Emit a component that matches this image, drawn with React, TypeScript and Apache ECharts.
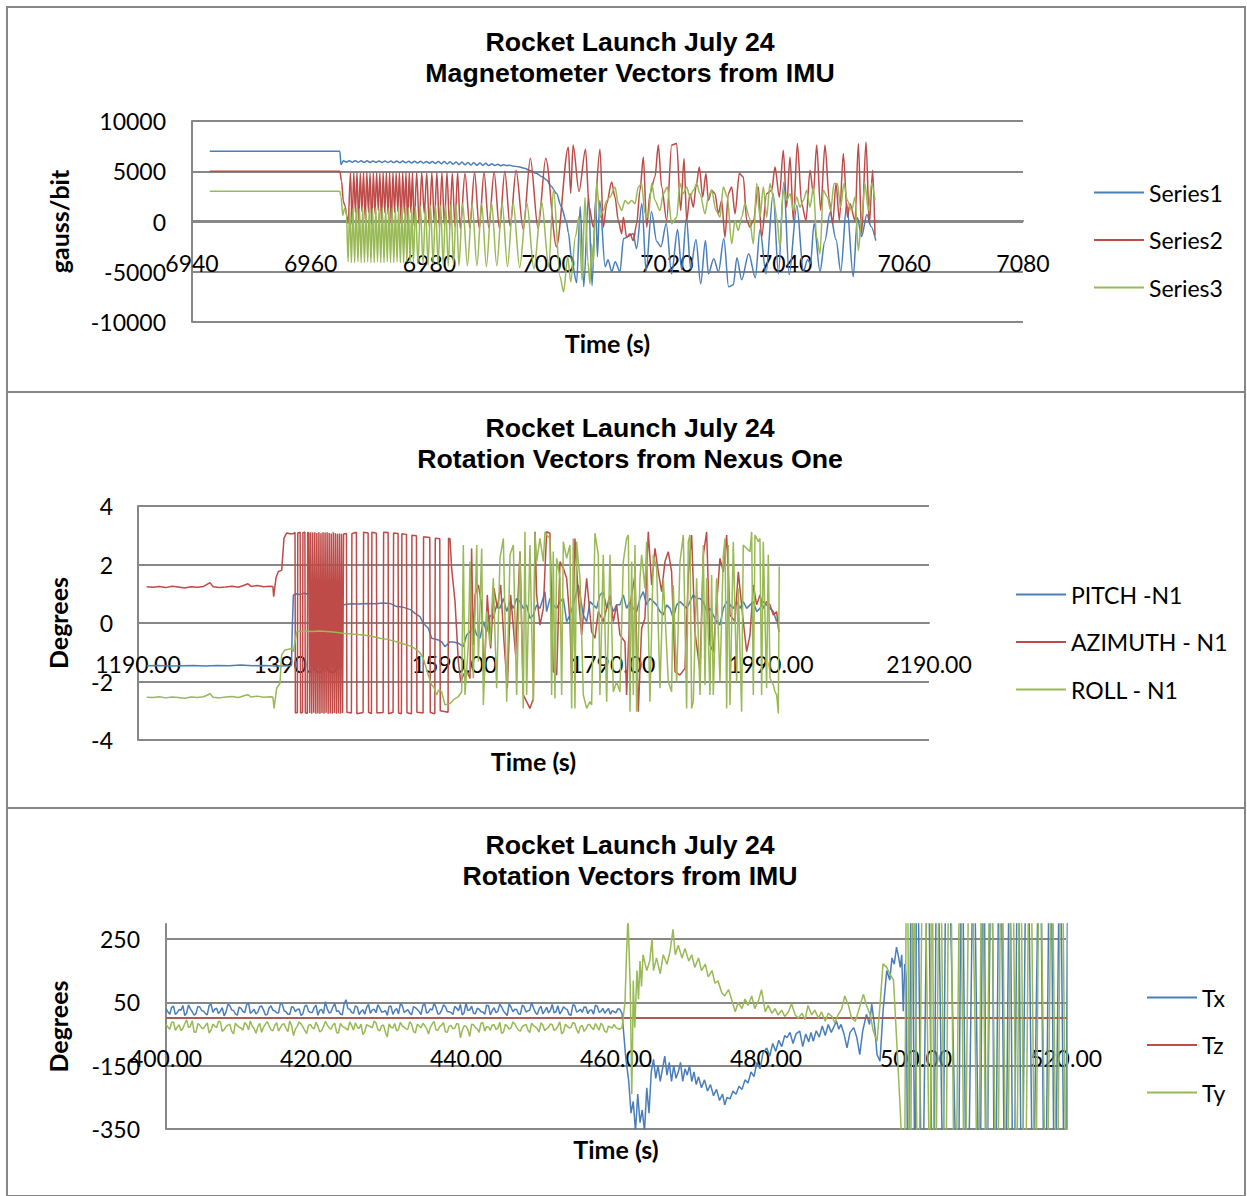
import React, { useEffect, useRef } from "react";
import * as echarts from "echarts";

// ---------------- Panel 1: Magnetometer vectors (time s, gauss/bit) ----------------
const magSeries1: number[][] = [
[6943,7000],[6964.9,7000],[6965.1,5650],[6965.5,6050],
[6966,5900],[6966.5,6050],[6967,5900],[6967.5,6050],[6968,5900],[6968.5,6040],[6969,5890],[6969.5,6040],[6970,5880],[6970.5,6030],[6971,5880],[6971.5,6030],[6972,5870],[6972.5,6020],[6973,5870],[6973.5,6020],[6974,5860],[6974.5,6010],[6975,5850],[6975.5,6010],[6976,5840],[6976.5,6000],[6977,5830],[6977.5,6000],[6978,5820],[6978.5,5990],[6979,5800],[6979.5,5980],[6980,5790],[6980.5,5980],[6981,5770],[6981.5,5970],[6982,5750],[6982.5,5960],[6983,5730],[6983.5,5950],[6984,5700],[6984.5,5930],[6985,5680],[6985.5,5910],[6986,5650],[6986.5,5880],[6987,5630],[6987.5,5850],[6988,5600],[6988.5,5820],[6989,5580],[6989.5,5800],[6990,5560],[6990.5,5750],[6991,5560],[6991.5,5700],[6992,5550],[6992.5,5650],[6993,5560],[6993.5,5600],[6994,5520],
[6995,5450],[6996,5300],[6997,5050],[6998,4800],[6999,4450],[6999.8,4100],[7000.5,3500],[7001.4,2800],[7002.2,1500],[7003.1,-100],[7003.4,-1100],
[7004.0,-4000],[7004.8,-6100],[7005.4,1500],[7006.0,-6500],[7006.8,2600],[7007.4,-6400],[7008.0,2300],[7008.3,-3500],[7008.7,2100],[7009.6,-4500],[7010.1,-3800],[7010.7,-5000],[7011.3,-4000],[7012.1,-5000],[7012.7,-1700],[7013.5,-1500],[7014.3,-1200],[7014.9,-2700],[7015.8,1800],[7016.5,-5000],[7017.4,1000],[7018.3,-2000],[7019.0,-2500],[7019.9,-200],[7020.8,-5200],[7021.8,-800],[7022.5,-4800],[7023.3,400],[7024.0,-4700],[7024.9,-1800],[7025.7,-6200],[7026.5,-1900],[7027.0,-5200],[7027.9,-3700],[7028.7,-5000],[7029.6,-1700],[7030.4,-6500],[7031.2,-6300],[7031.8,-3600],[7032.6,-5800],[7033.8,-3200],[7034.9,-5600],[7035.7,-800],[7036.7,-5200],[7037.9,2800],[7038.8,-5200],[7039.7,3900],[7040.6,-5300],[7041.9,1600],[7043.0,-5000],[7043.7,-3800],[7044.2,-4200],[7044.8,-200],[7045.8,-5000],[7046.6,-2000],[7047.5,900],[7048.5,-1800],[7049.3,-5000],[7050.3,1800],[7051.4,-5500],[7052.1,400],[7052.8,-1500],[7053.7,700],[7054.4,-500],[7055.2,-1900]
];

const magSeries2: number[][] = [
[6943,5000],[6964.9,5000],[6965.2,4000],[6965.5,2000],[6965.8,1500],[6966.1,500],[6966.3,-200],
[6966.7,4850],[6966.98,-300],[6967.25,4850],[6967.53,900],[6967.8,4850],[6968.08,-200],[6968.35,4800],[6968.63,1000],[6968.9,4850],[6969.18,200],[6969.45,4850],[6969.73,900],[6970.0,4800],[6970.28,-300],[6970.55,4850],[6970.83,800],[6971.1,4850],[6971.38,1100],[6971.65,4800],[6971.93,-100],[6972.2,4850],[6972.48,900],[6972.75,4850],[6973.03,700],[6973.3,4850],[6973.58,-400],[6973.85,4850],[6974.13,900],[6974.4,4800],[6974.68,1000],[6974.95,4850],[6975.23,-200],[6975.5,4850],[6975.78,800],[6976.05,4850],[6976.33,-300],[6976.6,4850],[6976.88,900],[6977.15,4850],[6977.43,-400],
[6977.85,4850],[6978.28,-300],[6978.7,4850],[6979.13,800],[6979.55,4800],[6979.98,-500],[6980.4,4850],[6980.83,-200],[6981.25,4850],[6981.68,-600],[6982.1,4850],[6982.53,-400],[6982.95,4850],[6983.4,-600],[6983.85,4800],[6984.3,-500],[6984.75,4850],[6985.2,-700],
[6986.0,4800],[6986.8,-600],[6987.6,4900],[6988.4,-700],[6989.2,4900],[6990.0,-600],[6990.9,4950],[6991.8,-700],[6992.7,5000],[6993.6,-500],[6994.6,5100],
[6995.8,-800],[6997.0,6300],[6998.3,-700],[6999.6,6300],[7001.4,-2500],[7003.4,7400],[7003.8,2800],[7004.2,7600],[7005.2,3000],[7006.3,7200],[7006.9,1500],
[7007.61,-570],[7008.73,7200],[7009.30,-570],[7009.86,1770],[7010.70,3930],[7011.26,2430],[7011.82,100],[7012.39,-1230],[7012.67,430],[7013.23,-1570],[7013.79,-1230],[7014.35,-1900],[7014.91,-230],[7015.47,3100],[7016.04,6430],[7016.60,-570],[7017.16,2770],[7018.00,4430],[7018.56,7600],[7019.12,3430],[7019.97,100],[7020.81,7600],[7021.65,7770],[7022.33,1100],[7022.89,6270],[7023.34,100],[7023.90,2770],[7024.46,1430],[7024.91,3430],[7025.47,5430],[7026.03,2430],[7026.59,4770],[7026.99,2100],[7027.55,3100],[7028.11,2770],[7028.67,770],[7029.23,2100],[7029.79,-1570],[7030.36,2770],[7030.92,3430],[7031.48,770],[7032.21,4770],[7032.88,4430],[7033.45,100],[7034.01,-570],[7034.57,100],[7035.41,3430],[7035.97,-1570],[7036.81,2770],[7037.66,3100],[7038.22,5430],[7038.95,2430],[7039.62,7100],[7040.18,1430],[7040.75,6430],[7041.31,100],[7041.98,7770],[7042.71,1770],[7043.44,100],[7044.12,5100],[7044.68,2770],[7045.24,7600],[7045.91,1100],[7046.64,7600],[7047.37,2100],[7047.93,-230],[7048.50,3770],[7049.06,100],[7049.73,6770],[7050.41,430],[7050.85,1770],[7051.70,100],[7052.26,7770],[7052.82,-1230],[7053.55,7930],[7054.11,-230],[7054.67,5100],[7055.07,-1400]
];

const magSeries3: number[][] = [
[6943,3000],[6964.9,3000],[6965.1,2500],[6965.4,600],[6965.7,1300],[6966.0,1000],[6966.3,-4000],
[6966.57,1400],[6966.85,-4100],[6967.12,1300],[6967.4,-4100],[6967.67,1400],[6967.95,-4000],[6968.22,1300],[6968.5,-4100],[6968.77,1400],[6969.05,-4100],[6969.32,1200],[6969.6,-4000],[6969.87,1400],[6970.15,-4100],[6970.42,1300],[6970.7,-4100],[6970.97,1400],[6971.25,-4000],[6971.52,1300],[6971.8,-4100],[6972.07,1400],[6972.35,-4100],[6972.62,1300],[6972.9,-4000],[6973.17,1400],[6973.45,-4100],[6973.72,1400],[6974.0,-4100],[6974.27,1300],[6974.55,-4000],[6974.82,1400],[6975.1,-4100],[6975.37,1400],[6975.65,-4100],[6975.92,1300],[6976.2,-4000],[6976.47,1400],[6976.75,-4100],[6977.02,1400],[6977.3,-4100],
[6977.64,1500],[6978.07,-4200],[6978.49,1500],[6978.92,-4200],[6979.34,1500],[6979.77,-4300],[6980.19,1600],[6980.62,-4200],[6981.04,1600],[6981.47,-4300],[6981.89,1600],[6982.32,-4300],[6982.74,1600],[6983.17,-4400],[6983.62,1700],[6984.07,-4300],[6984.52,1700],[6984.97,-4400],[6985.6,1800],
[6986.4,-4400],[6987.2,1800],[6988.0,-4400],[6988.8,1800],[6989.6,-4500],[6990.45,1900],[6991.35,-4400],[6992.25,1900],[6993.15,-4500],[6994.1,1900],[6995.2,-4600],
[6996.4,1900],[6997.6,-4700],[6998.9,2000],[7000.1,-4500],[7000.9,3200],[7002.0,-5500],[7002.6,-7000],[7003.3,-3500],[7003.8,-6000],[7004.6,-1500],[7005.2,500],[7005.7,-5800],[7006.2,2400],[7006.7,-4000],
[7007.05,-6230],[7007.33,-2230],[7007.61,-4230],[7007.89,100],[7008.17,3770],[7008.73,430],[7009.30,1100],[7009.86,2100],[7010.42,2430],[7011.26,3430],[7011.82,1770],[7012.39,1100],[7012.95,2100],[7013.51,1770],[7014.07,2100],[7014.63,1770],[7015.19,3430],[7015.75,3770],[7016.32,770],[7016.88,430],[7017.44,3770],[7018.00,2100],[7018.84,1100],[7019.40,2770],[7020.08,3430],[7020.81,-230],[7021.65,430],[7022.21,3770],[7022.77,2770],[7023.34,3430],[7023.90,2430],[7024.46,3100],[7025.02,3770],[7025.58,2770],[7026.43,770],[7026.99,2430],[7027.55,3100],[7028.28,1100],[7028.95,430],[7029.51,3430],[7030.19,2430],[7030.92,-2230],[7031.48,100],[7032.04,-900],[7032.60,430],[7033.16,1770],[7033.89,430],[7034.57,-2230],[7035.13,3770],[7035.69,430],[7036.25,3430],[7036.81,430],[7037.38,3770],[7037.94,2430],[7038.50,430],[7039.06,-2570],[7039.62,3100],[7040.18,2100],[7040.75,2770],[7041.31,1100],[7041.87,2430],[7042.43,1430],[7042.99,2100],[7043.55,3100],[7044.12,1430],[7044.68,3430],[7045.24,-1570],[7045.80,-3230],[7046.36,3100],[7047.04,2430],[7047.60,1100],[7048.16,3770],[7048.72,3770],[7049.28,1430],[7049.84,3770],[7050.41,2100],[7051.14,1100],[7051.70,2430],[7052.26,-2900],[7052.82,430],[7053.38,3770],[7053.94,1100],[7054.51,3770],[7055.07,2100]
];

// ---------------- Panel 2: Nexus One rotation vectors (time s, degrees) ----------------
const nexusPitch: number[][] = [
[1201,-1.46],[1215,-1.45],[1230,-1.47],[1245,-1.46],[1260,-1.45],[1275,-1.47],[1290,-1.45],[1305,-1.46],[1320,-1.44],[1335,-1.46],[1350,-1.45],[1365,-1.47],[1380,-1.46],[1384,-1.45],[1385,-0.2],[1386.4,0.95],[1390,1.0],[1395,0.97],[1400,1.02],[1405,0.98],[1410,1.0],[1415,0.96],[1420,1.01],[1424.3,1.07],[1428,0.98],[1432,0.99],[1436,0.95],[1439,0.73],[1444,0.66],[1449.6,0.62],[1460,0.66],[1470,0.65],[1480,0.67],[1490,0.66],[1500,0.68],[1508.6,0.67],[1517,0.56],[1524,0.55],[1529.6,0.5],[1535,0.45],[1540.2,0.33],[1546.5,0.22],[1550.7,-0.01],[1557,-0.18],[1561.3,-0.52],[1565,-0.55],[1569.7,-0.58],[1574,-0.65],[1578.1,-0.81],[1584.4,-0.64],[1590,-0.66],[1595,-0.69],[1601.3,-0.81],[1605.5,-0.41],[1609.7,-0.3],[1614,-0.07],[1618.2,-0.41],[1622.4,-0.52],[1626.6,0.05],[1630.8,-0.3],[1635,0.27],[1639.2,0.16],[1643.4,0.62],[1647.6,0.5],[1651.9,0.84],[1656.1,0.39],[1660.3,0.73],[1664.5,0.5],[1668.7,0.84],
[1672.9,0.73],[1677.1,0.5],[1681.3,0.62],[1685.5,0.16],[1689.8,0.27],[1694,0.62],[1698.2,0.5],[1704.5,1.07],[1706.6,0.39],[1710.8,0.84],[1715,0.62],[1719.3,0.5],[1723.5,0.73],[1727.7,0.84],[1731.9,0.05],[1736.1,0.27],[1740.3,0.62],[1746.6,1.3],[1748.8,0.96],[1753,0.27],[1757.2,0.05],[1761.4,0.73],[1765.6,0.62],[1769.8,0.5],[1774,0.96],[1778.2,1.07],[1782.5,0.5],[1786.7,0.73],[1790.9,0.39],[1795.1,0.62],[1799.3,0.62],[1803.5,0.96],[1807.7,0.5],[1812,0.73],[1816.2,0.5],[1820.4,0.39],[1824.6,0.84],[1828.8,1.07],[1833,0.62],[1837.2,0.84],[1841.5,0.73],[1845.7,0.62],[1849.9,0.39],[1854.1,0.27],[1858.3,0.62],[1862.5,0.5],[1866.7,0.16],[1871,0.62],[1875.2,0.73],[1879.4,0.62],[1883.6,0.5],[1887.8,0.73],[1892,0.96],[1896.2,0.84],[1900.5,0.84],[1904.7,0.73],[1908.9,0.39],[1913.1,0.5],[1917.3,0.27],[1921.5,0.05],[1925.7,-0.07],[1930,0.5],[1934.2,0.73],[1938.4,0.62],[1942.6,0.5],[1946.8,0.73],[1951,0.5],[1955.2,0.73],[1959.5,0.5],[1963.7,0.62],[1967.9,0.73],[1972.1,0.39],[1976.3,0.5],[1980.5,0.73],[1984.7,0.62],[1989,0.5],[1993.2,0.39],[1997.4,0.05]
];

const nexusAzimuth: number[][] = [
[1201,1.24],[1209,1.22],[1217,1.25],[1225,1.21],[1233,1.26],[1241,1.23],[1249,1.2],[1257,1.24],[1265,1.22],[1273,1.25],[1281,1.38],[1285,1.24],[1293,1.21],[1301,1.23],[1309,1.26],[1317,1.22],[1325,1.3],[1329,1.34],[1333,1.25],[1341,1.28],[1349,1.24],[1357,1.26],[1360.5,1.25],[1361.5,0.9],[1364.5,1.55],[1367.4,1.76],[1371.6,1.8],[1374.6,2.9],[1378,3.08],[1382,3.05],[1386.4,3.05],[1388.5,3.1],
[1389,-3.08],[1391.5,-3.06],[1392,3.08],[1395,3.1],[1395.5,-3.08],[1398,-3.05],[1398.5,3.09],[1401,3.1],[1401.5,-3.07],[1404,-3.09],[1404.5,3.1],[1406,3.08],
[1407,-3.08],[1408.3,3.1],[1409.6,-3.1],[1410.9,3.09],[1412.2,-3.07],[1413.5,3.1],[1414.8,-3.1],[1416.1,3.08],[1417.4,-3.09],[1418.7,3.1],[1420,-3.1],[1421.3,3.07],[1422.6,-3.08],[1423.9,3.1],[1425.2,-3.1],[1426.5,3.09],[1427.8,-3.07],[1429.1,3.1],[1430.4,-3.1],[1431.7,3.08],[1433,-3.09],[1434.3,3.06],[1435.6,-3.1],[1436.9,3.1],[1438.2,-3.08],[1439.5,3.07],[1440.8,-3.1],[1442.1,3.05],[1443.4,-3.09],[1444.7,3.06],[1446,-3.1],[1447.3,3.05],[1448.6,-3.08],[1449.9,3.04],
[1453.5,3.06],[1454.1,-3.05],[1459.8,-3.08],[1460.4,3.05],[1466.1,3.1],[1466.7,-3.1],[1474.6,-3.06],[1475.2,3.1],[1480.9,3.08],[1481.5,-3.05],[1485.1,-3.1],[1485.7,3.1],[1491.4,3.07],[1492,-3.08],[1499.9,-3.06],[1500.5,3.1],[1506.2,3.09],[1506.8,-3.1],[1512.5,-3.05],[1513.1,3.08],[1518.8,3.06],[1519.4,-3.08],[1523,-3.1],[1523.6,3.05],[1529.4,3.03],[1530,-3.07],[1535.7,-3.1],[1536.3,3.0],[1542,2.98],[1542.6,-3.05],[1550.4,-3.08],[1551,2.95],[1558.9,2.92],[1559.5,-3.06],[1565.2,-3.1],[1565.8,2.9],[1571.5,2.88],[1572.1,-3.0],[1582,-3.05],[1582.6,2.9],[1584.4,2.88],[1586.5,1.87],[1590.8,0.73],[1595,-1.32],[1598,-2.0],[1601,-1.8],[1605,-1.6],[1609.7,-1.9],
[1611.8,2.55],[1613.9,-0.75],[1616.1,0.96],[1620.3,1.3],[1624.5,0.62],[1627.5,-2.01],[1631.6,0.96],[1635.8,-0.87],[1640,1.19],[1644.3,0.5],[1648.5,1.3],[1652.7,-0.64],[1656.9,-2.23],[1661.1,0.96],[1667.4,-1.09],[1672.9,2.44],
[1677.1,-2.46],[1681.3,-2.69],[1685.5,-2.92],[1689.8,-2.58],[1691.9,3.12],[1694,0.96],[1698.2,-0.07],[1702.4,0.5],[1706.6,3.12],[1710.8,3.07],[1715,-1.66],[1719.3,-1.78],[1723.5,2.1],[1727.7,1.87],[1731.9,1.53],[1736.1,0.05],[1738.2,-2.01],[1742.4,2.89],[1746.6,0.96],[1750.9,-0.41],[1757.2,1.53],[1763.5,-0.3],[1767.7,-0.52],[1771.9,0.39],[1778.2,0.05],[1786.7,0.96],[1790.9,0.05],[1795.1,0.62],[1799.3,-0.41],[1805.6,-0.64],[1807.7,-2.46],[1812,0.62],[1818.3,1.64],[1822.5,-3.03],[1826.7,-0.18],[1830.9,0.16],[1835.1,3.12],[1839.4,1.3],[1843.6,2.55],[1847.8,1.75],[1852,1.07],[1856.2,2.1],[1860.4,2.44],[1864.6,1.75],[1868.9,-1.66],[1875.2,-1.78],[1881.5,-1.55],[1885.7,1.64],[1889.9,3.01],[1894.1,-0.3],[1900.5,-1.66],[1904.7,2.33],[1908.9,3.12],[1913.1,-0.75],[1917.3,-0.98],[1925.7,2.21],[1930,1.75],[1934.2,3.01],[1938.4,0.27],[1944.7,0.05],[1948.9,1.75],[1955.2,0.05],[1959.5,-0.98],[1963.7,-0.41],[1967.9,1.3],[1972.1,0.62],[1976.3,0.96],[1980.5,0.5],[1984.7,0.73],[1989,0.62],[1993.2,0.27],[1997.4,0.39],[1999.5,-0.18],[2000.7,-0.3]
];

const nexusRoll: number[][] = [
[1201,-2.54],[1209,-2.55],[1217,-2.52],[1225,-2.56],[1233,-2.53],[1241,-2.55],[1249,-2.57],[1257,-2.53],[1265,-2.55],[1273,-2.52],[1281,-2.42],[1285,-2.54],[1293,-2.56],[1301,-2.53],[1309,-2.51],[1317,-2.55],[1325,-2.48],[1329,-2.45],[1333,-2.53],[1341,-2.5],[1349,-2.54],[1357,-2.52],[1360.5,-2.53],[1362,-2.92],[1365.3,-2.23],[1369.5,-2.06],[1371.6,-1.09],[1375.8,-0.92],[1380,-0.9],[1384.3,-0.87],[1386.4,-0.98],[1390.6,-0.3],[1400,-0.27],[1410,-0.29],[1420,-0.27],[1432.7,-0.3],[1440,-0.32],[1449.6,-0.35],[1460,-0.38],[1474.9,-0.41],[1485,-0.45],[1496,-0.52],[1505,-0.56],[1517,-0.64],[1529.6,-0.75],[1536,-0.8],[1542.3,-0.92],[1546,-1.0],[1550.7,-1.21],[1557,-1.78],[1561.3,-2.12],[1564,-2.2],[1567.6,-2.46],[1570,-2.3],[1573.9,-2.35],[1578.1,-2.8],[1584.4,-2.75],[1590,-2.6],[1595,-2.52],[1599.2,-2.35],
[1601.3,2.67],[1603.4,-2.46],[1607.6,-0.75],[1609.7,2.1],[1613.9,-1.89],[1618.2,2.67],[1620.3,-1.32],[1624.5,2.55],[1626.6,-2.8],[1630.8,0.39],[1635,-0.75],[1639.2,1.53],[1643.4,-2.23],[1647.6,2.21],[1651.9,2.89],[1656.1,-2.69],[1660.3,2.33],[1664.5,2.67],[1668.7,-2.46],[1672.9,2.44],
[1677.1,-2.92],[1679.2,3.12],[1681.3,-2.46],[1685.5,2.67],[1689.8,-2.69],[1691.9,3.07],[1694,2.1],[1698.2,2.89],[1702.4,2.1],[1704.5,3.12],[1706.6,3.01],[1710.8,2.89],[1712.9,-2.46],[1715,2.44],[1717.1,-2.58],[1719.3,2.21],[1723.5,1.53],[1725.6,-2.46],[1727.7,2.78],[1731.9,2.21],[1736.1,2.67],[1738.2,-2.92],[1740.3,2.89],[1742.4,-2.92],[1744.5,2.78],[1746.6,2.1],[1748.8,1.53],[1753,-2.46],[1757.2,-2.92],[1761.4,-2.69],[1763.5,-2.8],[1767.7,3.07],[1771.9,2.33],[1774,-2.46],[1778.2,2.33],[1782.5,-2.69],[1786.7,2.33],[1790.9,-2.35],[1795.1,-2.01],[1799.3,-2.35],[1803.5,2.1],[1807.7,2.89],[1809.9,3.01],[1812,-3.03],[1814.1,2.1],[1816.2,-2.46],[1818.3,2.67],[1820.4,-3.03],[1824.6,1.53],[1826.7,2.33],[1830.9,1.19],[1833,2.78],[1837.2,-2.69],[1841.5,2.33],[1845.7,1.87],[1849.9,-2.23],[1854.1,1.53],[1860.4,-2.01],[1864.6,-2.35],[1866.7,1.3],[1871,-2.01],[1875.2,2.1],[1879.4,3.01],[1883.6,-2.92],[1885.7,2.78],[1887.8,3.01],[1889.9,-2.92],[1892,-2.69],[1896.2,1.53],[1900.5,-2.46],[1904.7,2.67],[1906.8,-2.12],[1908.9,1.53],[1913.1,-2.46],[1915.2,1.64],[1917.3,-2.46],[1921.5,1.53],[1925.7,-2.01],[1930,2.33],[1932.1,2.89],[1934.2,-2.92],[1936.3,2.67],[1938.4,-2.8],[1942.6,2.78],[1946.8,-2.01],[1948.9,1.19],[1953.1,-3.03],[1955.2,2.67],[1959.5,2.55],[1963.7,2.44],[1965.8,3.12],[1967.9,-2.46],[1970,3.01],[1974.2,2.78],[1976.3,2.89],[1978.4,-2.46],[1980.5,2.78],[1984.7,-2.23],[1986.8,2.33],[1989,-1.89],[1993.2,-2.12],[1995.3,-2.35],[1997.4,-2.46],[1999.5,-3.09],[2000.7,1.93]
];

// ---------------- Panel 3: IMU rotation vectors (time s, degrees) ----------------
const imuNoiseTimeA: number[] = [400,400.5,401,401.5,402,402.5,403,403.5,404,404.5,405,405.5,406,406.5,407,407.5,408,408.5,409,409.5,410,410.5,411,411.5,412,412.5,413,413.5,414,414.5,415,415.5,416,416.5,417,417.5,418,418.5,419,419.5,420,420.5,421,421.5,422,422.5,423,423.5,424,424.5,425,425.5,426,426.5,427,427.5,428,428.5,429,429.5,430,430.5,431,431.5,432,432.5,433,433.5,434,434.5,435,435.5,436,436.5,437,437.5,438,438.5,439,439.5,440,440.5,441,441.5,442,442.5,443,443.5,444,444.5,445,445.5,446,446.5,447,447.5,448,448.5,449,449.5,450,450.5,451,451.5,452,452.5,453,453.5,454,454.5,455,455.5,456,456.5,457,457.5,458,458.5,459,459.5,460,460.5];
const imuNoiseTimeB: number[] = [400.25,400.75,401.25,401.75,402.25,402.75,403.25,403.75,404.25,404.75,405.25,405.75,406.25,406.75,407.25,407.75,408.25,408.75,409.25,409.75,410.25,410.75,411.25,411.75,412.25,412.75,413.25,413.75,414.25,414.75,415.25,415.75,416.25,416.75,417.25,417.75,418.25,418.75,419.25,419.75,420.25,420.75,421.25,421.75,422.25,422.75,423.25,423.75,424.25,424.75,425.25,425.75,426.25,426.75,427.25,427.75,428.25,428.75,429.25,429.75,430.25,430.75,431.25,431.75,432.25,432.75,433.25,433.75,434.25,434.75,435.25,435.75,436.25,436.75,437.25,437.75,438.25,438.75,439.25,439.75,440.25,440.75,441.25,441.75,442.25,442.75,443.25,443.75,444.25,444.75,445.25,445.75,446.25,446.75,447.25,447.75,448.25,448.75,449.25,449.75,450.25,450.75,451.25,451.75,452.25,452.75,453.25,453.75,454.25,454.75,455.25,455.75,456.25,456.75,457.25,457.75,458.25,458.75,459.25,459.75,460.25];

const imuTxNoiseA: number[] = [30,12,38,18,25,8,42,20,15,35, 22,10,45,28,14,33,19,40,24,9, 31,17,48,21,13,36,26,11,39,23, 16,44,20,12,34,27,8,37,22,18, 41,25,14,30,19,46,23,10,58,28, 15,35,21,12,43,26,17,32,20,9, 38,24,13,40,22,16,36,27,11,45, 19,25,33,14,42,21,18,37,23,10, 47,26,15,31,20,12,39,24,17,44, 22,8,35,28,14,41,19,25,32,11, 38,23,16,43,20,13,36,27,9,40, 22,18,34,25,12,37,21,15,30,24, 17,28];
const imuTxNoiseB: number[] = [20,33,11,27,40,16,29,9,37,24, 14,39,18,31,22,7,43,26,13,35, 21,42,15,28,19,38,10,32,25,17, 46,23,12,36,20,29,14,41,18,33, 9,27,52,16,35,21,13,44,30,18, 39,11,26,34,15,28,42,19,24,37, 12,30,45,18,27,10,33,21,40,16, 29,48,13,25,36,20,11,31,43,17, 24,38,14,28,19,41,10,33,22,35, 15,44,20,27,12,36,23,50,18,29, 13,34,25,17,39,22,30,11,42,19, 28,35,14,26,41,18,31,23,12,20, 30];

const imuTyNoiseA: number[] = [-20,-35,-12,-28,-40,-18,-30,-8,-45,-22, -33,-15,-38,-25,-10,-42,-27,-19,-50,-23, -31,-14,-37,-26,-48,-17,-29,-11,-36,-24, -41,-20,-32,-9,-55,-26,-18,-39,-23,-30, -13,-44,-27,-21,-35,-16,-47,-25,-33,-12, -38,-28,-19,-43,-24,-31,-15,-40,-22,-60, -29,-17,-36,-25,-34,-11,-42,-20,-30,-24, -50,-18,-37,-27,-14,-45,-23,-32,-19,-39, -26,-58,-21,-34,-16,-41,-28,-22,-36,-13, -44,-25,-31,-18,-38,-27,-20,-46,-24,-33, -15,-40,-29,-21,-35,-12,-43,-26,-30,-17, -48,-23,-34,-20,-37,-28,-16,-42,-25,-31, -30,-35];
const imuTyNoiseB: number[] = [-28,-14,-39,-21,-33,-5,-26,-44,-17,-31, -24,-47,-19,-30,-12,-36,-22,-41,-16,-29, -38,-21,-9,-33,-27,-45,-19,-25,-40,-14, -30,-18,-43,-24,-35,-12,-28,-49,-20,-34, -26,-39,-10,-31,-22,-46,-17,-29,-38,-23, -15,-33,-52,-21,-27,-9,-36,-24,-44,-18, -31,-40,-13,-28,-35,-20,-47,-25,-16,-33, -29,-11,-38,-22,-43,-26,-34,-17,-62,-24, -36,-19,-30,-45,-14,-27,-39,-21,-32,-48, -20,-35,-12,-29,-41,-23,-37,-16,-28,-44, -22,-33,-18,-39,-25,-50,-19,-31,-14,-36, -27,-42,-21,-30,-17,-38,-24,-45,-29,-20, -33];

const imuTxAfter: number[][] = [
[460.8,15],[461.0,-40],[461.3,-125],[461.7,-200],[462.0,-300],[462.3,-263],[462.6,-358],[462.9,-240],[463.2,-330],[463.5,-290],[463.8,-358],[464.1,-220],[464.4,-300],[464.7,-170],[465.0,-130],[465.3,-190],[465.6,-150],[465.9,-200],[466.2,-160],[466.5,-120],[466.8,-180],[467.1,-140],[467.4,-200],[467.7,-150],[468.0,-190],[468.3,-170],[468.6,-140],[468.9,-200],[469.2,-160],[469.5,-180],[469.8,-150],[470.1,-200],[470.4,-170],[470.7,-210],[471.0,-185],[471.4,-220],[471.8,-195],[472.2,-230],[472.6,-210],[473.0,-245],[473.4,-225],[473.8,-260],[474.2,-240],[474.5,-274],[474.8,-250],[475.2,-255],[475.6,-230],[476.0,-240],[476.4,-215],[476.8,-225],[477.2,-195],[477.6,-205],[478.0,-170],[478.4,-185],[478.8,-140],[479.2,-160],[479.6,-110],[480.1,-94],[480.5,-120],[480.9,-80],[481.3,-105],[481.7,-70],[482.1,-90],[482.5,-55],[482.8,-62],[483.2,-45],[483.6,-80],[484.0,-50],[484.5,-41],[484.9,-90],[485.3,-50],[485.7,-75],[486.0,-45],[486.3,-73],[486.7,-40],[487.1,-60],[487.5,-25],[487.9,-55],[488.3,-20],[488.7,-45],[489.0,-30],[489.4,-10],[489.7,-35],[490.0,-20],[490.4,-50],[490.8,-94],[491.2,-45],[491.7,-30],[492.1,-60],[492.5,-115],[492.9,-40],[493.4,12],[493.8,-20],[494.1,44],[494.5,-30],[494.8,-115],[495.2,-136],[495.6,20],[496.1,150],[496.5,120],[496.8,190],[497.1,170],[497.4,224],[497.7,190],[497.9,160],[498.1,200],[498.3,22],[498.5,171],[498.7,130],
[499.0,-900],[499.4,800],[499.9,-700],[500.1,900],[500.8,-800],[501.6,700],[502.3,-900],[502.8,800],[503.6,-600],[504.1,900],[505.6,-800],[506.1,800],[506.8,-900],[507.7,700],[508.5,-800],[509.0,900],[509.4,-700],[510.1,800],[510.5,-900],[511.2,900],[511.9,-800],[512.5,700],[513.0,-900],[513.6,800],[514.1,-800],[514.8,900],[515.6,-700],[516.5,800],[517.2,-900],[517.9,900],[518.5,-800],[519.2,700],[519.9,-900],[520.3,800]
];

const imuTz: number[][] = [[400,0],[520.3,0]];

const imuTyAfter: number[][] = [
[460.8,-30],[461.2,50],[461.4,200],[461.6,320],[461.9,100],[462.1,-240],[462.2,-100],[462.3,118],[462.5,-30],[462.8,150],[463.0,60],[463.2,180],[463.4,100],[463.6,200],[464.1,150],[464.5,180],[464.8,250],[465.0,150],[465.4,190],[465.9,140],[466.3,200],[466.8,170],[467.2,210],[467.6,280],[467.9,200],[468.3,230],[468.8,190],[469.2,220],[469.7,180],[470.1,200],[470.5,160],[471.0,190],[471.4,150],[471.9,170],[472.3,130],[472.8,150],[473.2,110],[473.6,118],[474.1,80],[474.5,70],[475.0,90],[475.4,60],[475.9,20],[476.3,50],[476.8,30],[477.2,60],[477.6,40],[478.1,70],[478.5,30],[479.0,55],[479.4,90],[479.9,20],[480.3,40],[480.8,15],[481.2,30],[481.6,10],[482.1,25],[482.5,5],[483.0,20],[483.4,45],[483.9,10],[484.3,0],[484.8,15],[485.2,-5],[485.6,40],[486.1,10],[486.5,25],[487.0,0],[487.4,20],[487.9,-10],[488.3,15],[488.8,5],[489.2,-15],[489.6,10],[490.1,30],[490.5,70],[491.0,40],[491.4,0],[491.9,-10],[492.3,20],[492.8,60],[493.0,75],[493.4,40],[493.9,10],[494.3,-40],[494.8,-73],[495.2,40],[495.6,171],[496.1,160],[496.5,140],[497.0,120],[497.4,-60],[497.9,-290],[498.1,-400],
[498.4,-900],[498.8,900],[499.2,-900],[499.6,800],[500.3,-800],[501.0,900],[501.9,-700],[502.1,900],[502.5,-900],[503.2,800],[503.9,-800],[504.5,900],[505.2,-900],[505.9,700],[506.5,-800],[507.2,900],[507.9,-60],[508.3,-900],[508.8,800],[509.4,-800],[509.9,900],[510.8,-900],[511.4,800],[512.1,-900],[512.8,900],[513.4,-700],[513.9,800],[514.5,-900],[515.2,900],[515.9,-800],[516.5,800],[517.4,-900],[518.1,700],[518.8,-800],[519.4,900],[520.1,-900],[520.3,800]
];

// ---------------- labels ----------------
const titles = [
  "Rocket Launch July 24\nMagnetometer Vectors from IMU",
  "Rocket Launch July 24\nRotation Vectors from Nexus One",
  "Rocket Launch July 24\nRotation Vectors from IMU",
];
const names1 = ["Series1", "Series2", "Series3"];
const names2 = ["PITCH -N1", "AZIMUTH - N1", "ROLL - N1"];
const names3 = ["Tx", "Tz", "Ty"];

const NEXUS_X0 = 1190; // x axis of panel 2 starts here
const IMU_Y0 = -350;   // y axis of panel 3 starts here

const FONT = "Lato, 'Open Sans', sans-serif";
const TFONT = "'Liberation Sans', Arial, sans-serif";
const GRAY = "#878787";
const BLUE = "#4A7EBB";
const RED = "#BE4B48";
const GREEN = "#98B954";

function zip(t: number[], v: number[]): number[][] {
  const n = Math.min(t.length, v.length);
  const out: number[][] = [];
  for (let i = 0; i < n; i++) out.push([t[i], v[i]]);
  return out;
}

function line(name: string, data: number[][], color: string, idx: number, smooth: number | boolean = false) {
  return {
    type: "line",
    name,
    data,
    xAxisIndex: idx,
    yAxisIndex: idx,
    symbol: "none",
    showSymbol: false,
    smooth,
    smoothMonotone: "x",
    lineStyle: { color, width: 1.5 },
    itemStyle: { color },
    clip: true,
    animation: false,
  };
}

const tickLabel = { color: "#000", fontSize: 23, fontFamily: FONT };
const axisName = { color: "#000", fontSize: 25, fontWeight: "bold", fontFamily: FONT };
const axisLine = { show: true, onZero: false, lineStyle: { color: GRAY, width: 2 } };

function buildOption() {
  const p2Shift = (d: number[][]) => d.map((p) => [p[0] - NEXUS_X0, p[1]]);
  const p3Shift = (d: number[][]) => d.map((p) => [p[0], p[1] - IMU_Y0]);
  const byTime = (a: number[], b: number[]) => a[0] - b[0];
  const tx = zip(imuNoiseTimeA, imuTxNoiseA).concat(zip(imuNoiseTimeB, imuTxNoiseB)).sort(byTime).concat(imuTxAfter);
  const ty = zip(imuNoiseTimeA, imuTyNoiseA).concat(zip(imuNoiseTimeB, imuTyNoiseB)).sort(byTime).concat(imuTyAfter);

  const legendBase = {
    orient: "vertical",
    itemWidth: 50,
    itemHeight: 24,
    itemGap: 24.5,
    padding: 0,
    itemStyle: { opacity: 0, borderWidth: 0 },
    textStyle: { color: "#000", fontSize: 23, fontFamily: FONT },
  };

  return {
    animation: false,
    backgroundColor: "#fff",
    title: titles.map((t, i) => ({
      text: t,
      left: 630,
      top: [26.5, 412.5, 829.5][i],
      textAlign: "center",
      padding: 0,
      textStyle: { fontFamily: TFONT, fontSize: 26.7, fontWeight: "bold", color: "#000", lineHeight: 31 },
    })),
    legend: [
      { ...legendBase, left: 1093, top: 181, data: names1 },
      { ...legendBase, left: 1015, top: 583, data: names2 },
      { ...legendBase, left: 1146, top: 986, data: names3 },
    ],
    grid: [
      { left: 192, top: 121, width: 831, height: 201 },
      { left: 138, top: 506, width: 791, height: 234 },
      { left: 166, top: 924, width: 900, height: 205 },
    ],
    xAxis: [
      {
        gridIndex: 0, type: "value", min: 6940, max: 7080, interval: 20, position: "bottom", offset: -101,
        axisLine, axisTick: { show: false }, splitLine: { show: false },
        axisLabel: { ...tickLabel, margin: 30, formatter: (v: number) => String(v) },
        name: "Time (s)", nameLocation: "middle", nameGap: 109, nameTextStyle: axisName,
      },
      {
        gridIndex: 1, type: "value", min: 0, max: 1000, interval: 200, position: "bottom", offset: -117,
        axisLine, axisTick: { show: false }, splitLine: { show: false },
        axisLabel: { ...tickLabel, margin: 29, formatter: (v: number) => (v + NEXUS_X0).toFixed(2) },
        name: "Time (s)", nameLocation: "middle", nameGap: 125, nameTextStyle: axisName,
      },
      {
        gridIndex: 2, type: "value", min: 400, max: 520, interval: 20, position: "bottom", offset: -111,
        axisLine, axisTick: { show: false }, splitLine: { show: false },
        axisLabel: { ...tickLabel, margin: 28, formatter: (v: number) => v.toFixed(2) },
        name: "Time (s)", nameLocation: "middle", nameGap: 118, nameTextStyle: axisName,
      },
    ],
    yAxis: [
      {
        gridIndex: 0, type: "value", min: -10000, max: 10000, interval: 5000,
        axisLine, axisTick: { show: false },
        splitLine: { show: true, lineStyle: { color: GRAY, width: 2 } },
        axisLabel: { ...tickLabel, margin: 26, formatter: (v: number) => String(v) },
        name: "gauss/bit", nameLocation: "middle", nameGap: 121, nameTextStyle: axisName,
      },
      {
        gridIndex: 1, type: "value", min: -4, max: 4, interval: 2,
        axisLine, axisTick: { show: false },
        splitLine: { show: true, lineStyle: { color: GRAY, width: 2 } },
        axisLabel: { ...tickLabel, margin: 25, formatter: (v: number) => String(v) },
        name: "Degrees", nameLocation: "middle", nameGap: 68, nameTextStyle: axisName,
      },
      {
        gridIndex: 2, type: "value", min: 0, max: 647, interval: 200,
        axisLine, axisTick: { show: false },
        splitLine: { show: true, showMaxLine: false, lineStyle: { color: GRAY, width: 2 } },
        axisLabel: { ...tickLabel, margin: 26, showMaxLabel: false, formatter: (v: number) => String(v + IMU_Y0) },
        name: "Degrees", nameLocation: "middle", nameGap: 96, nameTextStyle: axisName,
      },
    ],
    graphic: [
      { type: "rect", silent: true, z: -10, shape: { x: 7, y: 7, width: 1238, height: 385 }, style: { fill: "none", stroke: GRAY, lineWidth: 2 } },
      { type: "rect", silent: true, z: -10, shape: { x: 7, y: 392, width: 1238, height: 416 }, style: { fill: "none", stroke: GRAY, lineWidth: 2 } },
      { type: "rect", silent: true, z: -10, shape: { x: 7, y: 808, width: 1238, height: 388 }, style: { fill: "none", stroke: GRAY, lineWidth: 2 } },
    ],
    series: [
      line(names1[0], magSeries1, BLUE, 0, 0.3),
      line(names1[1], magSeries2, RED, 0, 0.3),
      line(names1[2], magSeries3, GREEN, 0, 0.3),
      line(names2[0], p2Shift(nexusPitch), BLUE, 1),
      line(names2[1], p2Shift(nexusAzimuth), RED, 1),
      line(names2[2], p2Shift(nexusRoll), GREEN, 1),
      line(names3[0], p3Shift(tx), BLUE, 2),
      line(names3[1], p3Shift(imuTz), RED, 2),
      line(names3[2], p3Shift(ty), GREEN, 2),
    ],
  };
}

export default function App() {
  const ref = useRef<HTMLDivElement>(null);
  useEffect(() => {
    if (!ref.current) return;
    const chart = echarts.init(ref.current, null, { renderer: "svg" });
    chart.setOption(buildOption() as any);
    return () => chart.dispose();
  }, []);
  return (
    <div
      ref={ref}
      style={{ position: "absolute", left: 0, top: 0, width: 1247, height: 1196, background: "#fff" }}
    />
  );
}
